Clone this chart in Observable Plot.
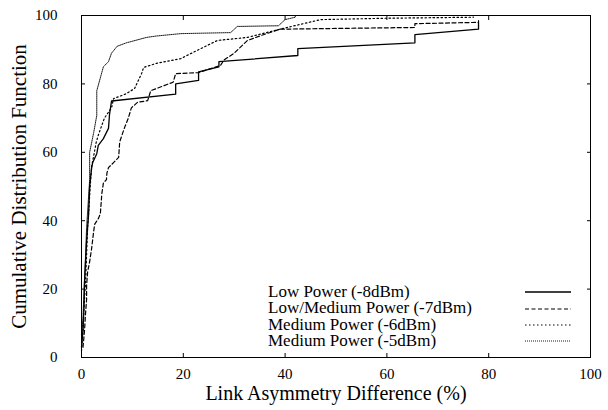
<!DOCTYPE html>
<html><head><meta charset="utf-8">
<script src="https://cdn.jsdelivr.net/npm/d3@7"></script>
<script src="https://cdn.jsdelivr.net/npm/@observablehq/plot@0.6"></script>
<style>
body{margin:0;background:#fff;}
#wrap{position:relative;width:608px;height:410px;font-family:"Liberation Serif","DejaVu Serif",serif;}
#wrap svg text{font-family:"Liberation Serif","DejaVu Serif",serif !important;}
#legend{position:absolute;left:268px;top:284px;font-size:17px;color:#000;}
#legend .row{display:flex;align-items:center;height:16.4px;}
#legend .lbl{display:block;width:257px;height:16.4px;line-height:16.4px;white-space:nowrap;overflow:visible;}
</style></head><body><div id="wrap"></div>
<script>
const xTicks = [0, 20, 40, 60, 80, 100];
const yTicks = [0, 20, 40, 60, 80, 100];
const xLabel = "Link Asymmetry Difference (%)";
const yLabel = "Cumulative Distribution Function";
const seriesNames = ["Low Power (-8dBm)", "Low/Medium Power (-7dBm)", "Medium Power (-6dBm)", "Medium Power (-5dBm)"];

// [asymmetry %, CDF %]
const lowPower8 = [[0,3],[0.3,8],[0.5,15],[0.6,22],[0.8,28],[1,34],[1.4,42],[1.6,50],[2,55.5],[2.2,57],[3,59.6],[3.3,62],[4.3,64],[5.3,67],[5.5,71],[5.9,75],[18.5,77],[18.5,80],[23,81],[23,83.5],[27,85],[27,86.5],[42.5,88.3],[42.5,90.3],[65.5,92],[65.5,94.4],[78,96],[78,97.9]];
const lowMedPower7 = [[0.3,3],[0.6,8],[0.8,13],[1,17],[1,21],[1.2,25],[1.6,28],[2,32],[2.4,37],[2.6,39],[3.3,40.6],[3.7,42],[4,48],[4.3,51],[4.9,52],[5,54],[5.3,55.5],[6.3,57],[7.3,58.5],[7.5,63],[8.4,67],[9.2,70],[9.8,73],[11,74.6],[13,75.1],[13.6,78],[18,80.5],[18.5,83],[23,83.3],[27.3,85.4],[28,87],[30,89],[32.6,92.7],[35,94],[39,96],[65.5,96.5],[65.5,97.6],[78,98],[78,98.5]];
const medPower6 = [[0,2],[0.3,8],[0.5,15],[0.8,22],[1,30],[1.2,38],[1.5,45],[1.8,52],[2,56],[2.4,59],[2.9,63],[3.3,65],[4.5,70],[5.9,73],[6.3,75.7],[8.6,77],[10.4,78.6],[11.8,83],[12.2,84.8],[14.7,86],[19.5,87.4],[23,90],[26.7,92.7],[32.6,93.6],[39,96],[47,98.8],[60,99.2],[77,99.5]];
const medPower5 = [[0,5],[0.3,12],[0.5,20],[0.8,30],[1,38],[1.3,45],[1.6,52],[1.6,60],[2.4,65.8],[3,70.8],[3,78],[4.3,85],[5.3,86.5],[5.9,89],[7,91],[8.8,92],[12.8,93.6],[14.7,94],[19.5,94.7],[29.3,95],[30.6,96.8],[38.7,97],[40,98.8],[42,99.5],[42,100]];

const seriesData = [lowPower8, lowMedPower7, medPower6, medPower5];
const styles = [
  {stroke: "#000", strokeWidth: 1.3, dash: null},
  {stroke: "#000", strokeWidth: 1.2, dash: "4,2.5"},
  {stroke: "#000", strokeWidth: 1.2, dash: "1.5,2.5"},
  {stroke: "#000", strokeWidth: 0.9, dash: "1,1"}
];

const lineMarks = seriesData.map((pts, i) => Plot.line(pts, {
  x: d => d[0], y: d => d[1],
  stroke: styles[i].stroke, strokeWidth: styles[i].strokeWidth,
  strokeDasharray: styles[i].dash || undefined
}));

const fontFamily = '"Liberation Serif","DejaVu Serif",serif';

const chart = Plot.plot({
  width: 608, height: 410,
  marginLeft: 81, marginRight: 18, marginTop: 15, marginBottom: 53,
  style: {fontFamily, fontSize: "15px", color: "#000", background: "#fff"},
  x: {domain: [0, 100], label: null},
  y: {domain: [0, 100], label: null},
  marks: [
    ...lineMarks,
    Plot.frame({stroke: "#000", strokeWidth: 1}),
    Plot.axisX(xTicks, {anchor: "bottom", tickSize: 4, dy: -4, text: null, label: null, stroke: "#000"}),
    Plot.axisX(xTicks, {anchor: "top", tickSize: 4, dy: 4, text: null, label: null, stroke: "#000"}),
    Plot.axisY(yTicks, {anchor: "left", tickSize: 4, dx: 4, text: null, label: null, stroke: "#000"}),
    Plot.axisY(yTicks, {anchor: "right", tickSize: 4, dx: -4, text: null, label: null, stroke: "#000"}),
    Plot.axisX(xTicks, {anchor: "bottom", tickSize: 0, tickPadding: 11, label: null, fontSize: 15, fill: "#000"}),
    Plot.axisY(yTicks, {anchor: "left", tickSize: 0, tickPadding: 24, label: null, fontSize: 15, fill: "#000"}),
    Plot.text([xLabel], {text: d => d, frameAnchor: "bottom", dy: 42, fontSize: 20, fill: "#000"}),
    Plot.text([yLabel], {text: d => d, frameAnchor: "left", textAnchor: "middle", rotate: -90, dx: -62, fontSize: 21, fill: "#000"})
  ]
});

const wrap = document.getElementById("wrap");
wrap.appendChild(chart);

const legend = document.createElement("div");
legend.id = "legend";
seriesNames.forEach((name, i) => {
  const row = document.createElement("div");
  row.className = "row";
  const lbl = document.createElement("span");
  lbl.className = "lbl";
  lbl.textContent = name;
  row.appendChild(lbl);
  const svg = d3.create("svg").attr("width", 46).attr("height", 8);
  svg.append("line").attr("x1", 0).attr("x2", 46).attr("y1", 4).attr("y2", 4)
    .attr("stroke", styles[i].stroke).attr("stroke-width", styles[i].strokeWidth)
    .attr("stroke-dasharray", styles[i].dash);
  row.appendChild(svg.node());
  legend.appendChild(row);
});
wrap.appendChild(legend);
</script></body></html>
